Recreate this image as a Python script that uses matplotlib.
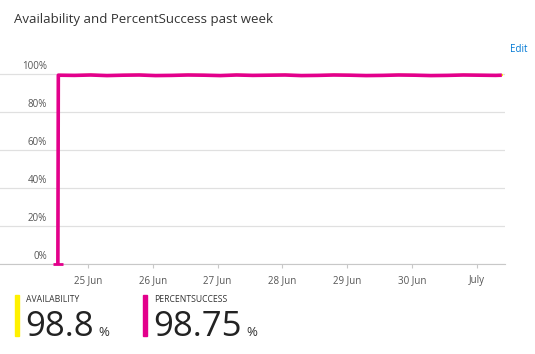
import matplotlib.pyplot as plt
import pandas as pd

plt.rcParams['font.family'] = ['Open Sans', 'DejaVu Sans']

# six-hourly samples, first point is the 0% dip at the start
times = ['2019-06-24 12:50'] + list(pd.date_range('2019-06-24 13:00', periods=28, freq='6h')) + ['2019-07-01 09:15']
availability = [0, 99.5, 99.4, 99.6, 99.3, 99.5, 99.6, 99.3, 99.4, 99.6, 99.5, 99.3, 99.6, 99.4, 99.5,
                99.6, 99.3, 99.4, 99.6, 99.5, 99.3, 99.4, 99.6, 99.5, 99.3, 99.4, 99.6, 99.5, 99.4, 99.5]
percent_success = [0, 99.4, 99.3, 99.5, 99.2, 99.4, 99.5, 99.2, 99.3, 99.5, 99.4, 99.2, 99.5, 99.3, 99.4,
                   99.5, 99.2, 99.3, 99.5, 99.4, 99.2, 99.3, 99.5, 99.4, 99.2, 99.3, 99.5, 99.4, 99.3, 99.4]
y_ticks = [0, 20, 40, 60, 80, 100]
x_ticks = ['2019-06-25', '2019-06-26', '2019-06-27', '2019-06-28', '2019-06-29', '2019-06-30', '2019-07-01']
x_labels = ['25 Jun', '26 Jun', '27 Jun', '28 Jun', '29 Jun', '30 Jun', 'July']
summary = [('AVAILABILITY', '98.8', '#FFF100'), ('PERCENTSUCCESS', '98.75', '#E3008C')]

times = pd.to_datetime(times)

fig = plt.figure(figsize=(5.35, 3.54), dpi=100)
ax = fig.add_axes([0, 1 - 264 / 354, 505 / 535, 204 / 354])

ax.plot(times, availability, color='#FCE100', lw=1.6, clip_on=False, zorder=3)
ax.plot(times, percent_success, color='#E3008C', lw=2.6, clip_on=False, zorder=4,
        solid_capstyle='butt')
# small stub where the series starts at 0
ax.plot(times[:1], percent_success[:1], marker='_', ms=7, mew=2, color='#E3008C',
        clip_on=False, zorder=4)

ax.set_xlim(pd.Timestamp('2019-06-23 15:24'), pd.Timestamp('2019-07-01 10:26'))
ax.set_ylim(0, 107.4)
ax.set_yticks(y_ticks)
ax.tick_params(axis='y', length=0, labelleft=False)
ax.grid(axis='y', color='#e0e0e0', lw=0.9)
for v in y_ticks:
    ax.text(0.093, v + 1.2, f'{v}%', transform=ax.get_yaxis_transform(),
            ha='right', va='bottom', fontsize=7, color='#555555')

ax.set_xticks(pd.to_datetime(x_ticks))
ax.set_xticklabels(x_labels)
ax.tick_params(axis='x', length=3, color='#c8c8c8', labelsize=7, labelcolor='#555555', pad=5)

for s in ['top', 'right', 'left']:
    ax.spines[s].set_visible(False)
ax.spines['bottom'].set_color('#c8c8c8')

fig.text(14 / 535, 1 - 20 / 354, 'Availability and PercentSuccess past week',
         fontsize=9.5, color='#333333', va='center')
fig.text(510 / 535, 1 - 49 / 354, 'Edit', fontsize=7, color='#0078D4', va='center')

for i, (name, val, col) in enumerate(summary):
    x0 = 15 + i * 128
    fig.patches.append(plt.Rectangle((x0 / 535, 1 - 336 / 354), 4 / 535, 41 / 354,
                                     transform=fig.transFigure, color=col))
    fig.text((x0 + 11) / 535, 1 - 300 / 354, name, fontsize=6.2, color='#333333', va='center')
    t = fig.text((x0 + 10) / 535, 1 - 336 / 354, val, fontsize=25, color='#222222',
                 va='baseline', fontweight='medium')
    fig.canvas.draw()
    bb = t.get_window_extent()
    fig.text((bb.x1 + 5) / 535, 1 - 336 / 354, '%', fontsize=9.5, color='#333333', va='baseline')

fig.savefig('out.png', dpi=100)
